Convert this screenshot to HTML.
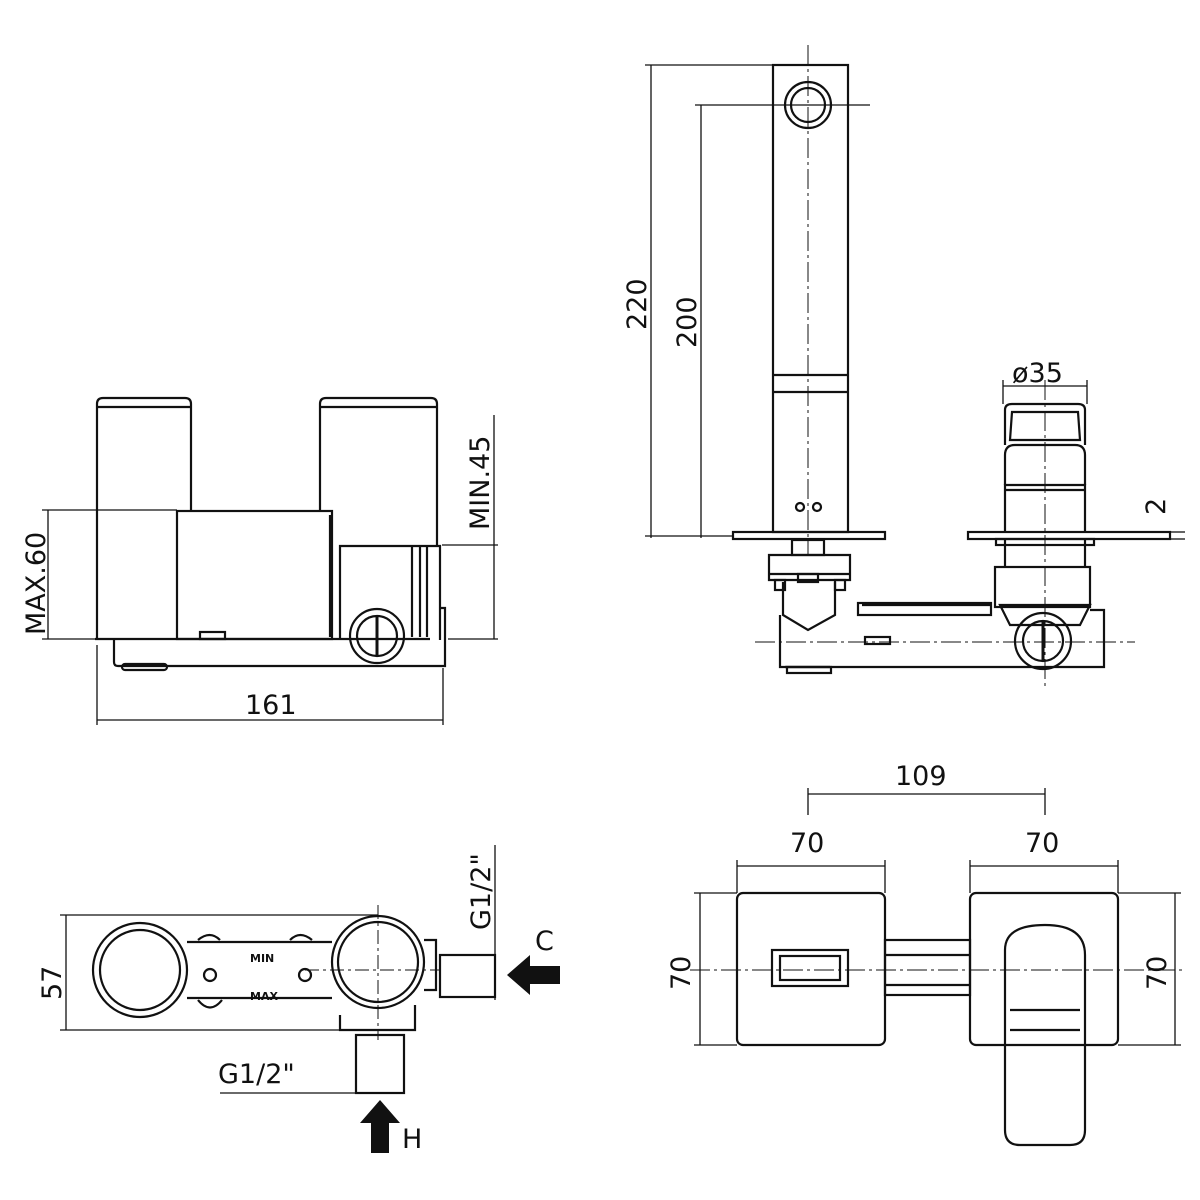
<!DOCTYPE html>
<html><head><style>body{margin:0;background:#fff}svg{display:block}text{font-family:"DejaVu Sans","Liberation Sans",sans-serif;font-size:27px;fill:#111}</style></head>
<body>
<svg width="1200" height="1200" viewBox="0 0 1200 1200" xmlns="http://www.w3.org/2000/svg">
<defs><marker id="a" markerWidth="8" markerHeight="8" refX="4" refY="4" orient="auto"><path d="M0,4 L4,4" stroke="#111"/></marker></defs>
<g fill="none" stroke="#111" stroke-width="2.2">
<!-- TOP LEFT -->
<path d="M97,640 V404 Q97,398 103,398 H185 Q191,398 191,404 V510"/>
<line x1="97" y1="407" x2="191" y2="407"/>
<path d="M320,510 V404 Q320,398 326,398 H431 Q437,398 437,404 V545"/>
<line x1="320" y1="407" x2="437" y2="407"/>
<rect x="177" y="511" width="155" height="128"/>
<line x1="330" y1="515" x2="330" y2="637"/>
<path d="M340,639 V546 H440 V640"/>
<line x1="412" y1="546" x2="412" y2="637"/><line x1="420" y1="546" x2="420" y2="637"/><line x1="427" y1="546" x2="427" y2="637"/>
<path d="M114,638 V662 Q114,666 118,666 H445 V608 H440"/>
<line x1="95" y1="639" x2="430" y2="639"/>
<rect x="122" y="664" width="45" height="6" rx="3"/>
<rect x="200" y="632" width="25" height="7"/>
<circle cx="377" cy="636" r="27"/><circle cx="377" cy="636" r="20"/>
<line x1="377" y1="617" x2="377" y2="655" stroke-width="3"/>
<!-- dims -->
<line x1="42" y1="510" x2="177" y2="510" stroke-width="1.3"/>
<line x1="42" y1="639" x2="95" y2="639" stroke-width="1.3"/>
<line x1="48" y1="510" x2="48" y2="639" stroke-width="1.3"/>
<line x1="442" y1="545" x2="498" y2="545" stroke-width="1.3"/>
<line x1="448" y1="639" x2="498" y2="639" stroke-width="1.3"/>
<line x1="494" y1="415" x2="494" y2="639" stroke-width="1.3"/>
<line x1="97" y1="645" x2="97" y2="725" stroke-width="1.3"/>
<line x1="443" y1="668" x2="443" y2="725" stroke-width="1.3"/>
<line x1="97" y1="720" x2="443" y2="720" stroke-width="1.3"/>

<!-- TOP RIGHT -->
<rect x="773" y="65" width="75" height="467"/>
<line x1="773" y1="375" x2="848" y2="375"/><line x1="773" y1="392" x2="848" y2="392"/>
<circle cx="808" cy="105" r="23"/><circle cx="808" cy="105" r="17"/>
<circle cx="800" cy="507" r="4"/><circle cx="817" cy="507" r="4"/>
<line x1="808" y1="45" x2="808" y2="555" stroke-width="1" stroke-dasharray="20,4,3,4"/>
<rect x="733" y="532" width="152" height="7"/>
<rect x="792" y="540" width="32" height="15"/>
<path d="M769,555 H850 V580 H769 Z"/>
<path d="M768,574 H851"/>
<rect x="775" y="580" width="10" height="10"/><rect x="798" y="574" width="20" height="8"/><rect x="835" y="580" width="10" height="10"/>
<path d="M783,582 V615 L808,630 L835,615 V582"/>
<path d="M780,615 V667 H1104 V610 H1090"/>
<line x1="862" y1="605" x2="990" y2="605"/>
<rect x="858" y="603" width="133" height="12"/>
<line x1="785" y1="667" x2="830" y2="667"/>
<rect x="787" y="667" width="44" height="6"/>
<line x1="755" y1="642" x2="1135" y2="642" stroke-width="1" stroke-dasharray="20,4,3,4"/>
<rect x="865" y="637" width="25" height="7"/>
<circle cx="1043" cy="641" r="28"/><circle cx="1043" cy="641" r="20"/>
<line x1="1043" y1="622" x2="1043" y2="660" stroke-width="3"/>
<rect x="995" y="567" width="95" height="40"/>
<path d="M1000,605 H1090 L1080,625 H1010 Z"/>
<line x1="1005" y1="540" x2="1005" y2="567"/><line x1="1085" y1="540" x2="1085" y2="567"/>
<rect x="968" y="532" width="202" height="7"/>
<rect x="996" y="539" width="98" height="6"/>
<path d="M1005,532 V485 H1085 V532"/>
<line x1="1005" y1="490" x2="1085" y2="490"/>
<path d="M1005,485 V455 Q1005,445 1015,445 H1075 Q1085,445 1085,455 V485"/>
<path d="M1005,445 V410 Q1005,404 1012,404 H1078 Q1085,404 1085,410 V445"/>
<path d="M1012,412 H1078 L1080,440 H1010 Z"/>
<line x1="1045" y1="380" x2="1045" y2="690" stroke-width="1" stroke-dasharray="20,4,3,4"/>
<!-- dims -->
<line x1="645" y1="65" x2="773" y2="65" stroke-width="1.3"/>
<line x1="651" y1="65" x2="651" y2="538" stroke-width="1.3"/>
<line x1="645" y1="536" x2="733" y2="536" stroke-width="1.3"/>
<line x1="695" y1="105" x2="870" y2="105" stroke-width="1.3"/>
<line x1="701" y1="105" x2="701" y2="538" stroke-width="1.3"/>
<line x1="1003" y1="386" x2="1087" y2="386" stroke-width="1.3"/>
<line x1="1003" y1="380" x2="1003" y2="404" stroke-width="1.3"/>
<line x1="1087" y1="380" x2="1087" y2="404" stroke-width="1.3"/>
<line x1="1170" y1="532" x2="1185" y2="532" stroke-width="1.3"/>
<line x1="1170" y1="539" x2="1185" y2="539" stroke-width="1.3"/>

<!-- BOTTOM LEFT -->
<circle cx="140" cy="970" r="47"/><circle cx="140" cy="970" r="40"/>
<circle cx="378" cy="962" r="46"/><circle cx="378" cy="962" r="40"/>
<path d="M187,942 H332 M187,998 H332"/>
<path d="M198,940 Q210,930 220,940 M290,940 Q300,930 312,940"/>
<circle cx="210" cy="975" r="6"/><circle cx="305" cy="975" r="6"/>
<path d="M198,1000 Q210,1015 222,1000 M340,1015 V1030 H415 V1005"/>
<path d="M424,940 H436 V990 H424"/>
<rect x="440" y="955" width="55" height="42"/>
<rect x="356" y="1035" width="48" height="58"/>
<line x1="378" y1="905" x2="378" y2="1040" stroke-width="1" stroke-dasharray="14,4,3,4"/>
<line x1="305" y1="970" x2="440" y2="970" stroke-width="1" stroke-dasharray="14,4,3,4"/>
<line x1="60" y1="915" x2="378" y2="915" stroke-width="1.3"/>
<line x1="60" y1="1030" x2="340" y2="1030" stroke-width="1.3"/>
<line x1="66" y1="915" x2="66" y2="1030" stroke-width="1.3"/>
<line x1="495" y1="845" x2="495" y2="1000" stroke-width="1.3"/>
<line x1="220" y1="1093" x2="404" y2="1093" stroke-width="1.3"/>
<line x1="93" y1="970" x2="93" y2="970"/>

<!-- BOTTOM RIGHT -->
<rect x="737" y="893" width="148" height="152" rx="6"/>
<rect x="970" y="893" width="148" height="152" rx="6"/>
<rect x="885" y="940" width="85" height="55"/>
<line x1="885" y1="955" x2="970" y2="955"/><line x1="885" y1="985" x2="970" y2="985"/>
<rect x="772" y="950" width="76" height="36"/><rect x="780" y="956" width="60" height="24"/>
<path d="M1005,950 Q1005,925 1045,925 Q1085,925 1085,955 V1130 Q1085,1145 1070,1145 H1020 Q1005,1145 1005,1130 Z"/>
<path d="M1010,1010 H1080 M1010,1030 H1080"/>
<line x1="690" y1="970" x2="1185" y2="970" stroke-width="1" stroke-dasharray="20,4,3,4"/>
<line x1="737" y1="860" x2="737" y2="893" stroke-width="1.3"/>
<line x1="885" y1="860" x2="885" y2="893" stroke-width="1.3"/>
<line x1="737" y1="866" x2="885" y2="866" stroke-width="1.3"/>
<line x1="970" y1="860" x2="970" y2="893" stroke-width="1.3"/>
<line x1="1118" y1="860" x2="1118" y2="893" stroke-width="1.3"/>
<line x1="970" y1="866" x2="1118" y2="866" stroke-width="1.3"/>
<line x1="808" y1="788" x2="808" y2="815" stroke-width="1.3"/>
<line x1="1045" y1="788" x2="1045" y2="815" stroke-width="1.3"/>
<line x1="808" y1="794" x2="1045" y2="794" stroke-width="1.3"/>
<line x1="694" y1="893" x2="737" y2="893" stroke-width="1.3"/>
<line x1="694" y1="1045" x2="737" y2="1045" stroke-width="1.3"/>
<line x1="700" y1="893" x2="700" y2="1045" stroke-width="1.3"/>
<line x1="1118" y1="893" x2="1181" y2="893" stroke-width="1.3"/>
<line x1="1118" y1="1045" x2="1181" y2="1045" stroke-width="1.3"/>
<line x1="1175" y1="893" x2="1175" y2="1045" stroke-width="1.3"/>
</g>
<!-- arrows -->
<path d="M507,975 L530,955 V966 H560 V984 H530 V995 Z" fill="#111"/>
<path d="M380,1100 L360,1123 H371 V1153 H389 V1123 H400 Z" fill="#111"/>
<text x="245" y="714">161</text>
<text transform="translate(45,635) rotate(-90)">MAX.60</text>
<text transform="translate(489,530) rotate(-90)">MIN.45</text>
<text transform="translate(646,330) rotate(-90)">220</text>
<text transform="translate(696,348) rotate(-90)">200</text>
<text x="1012" y="382">ø35</text>
<text transform="translate(1165,515) rotate(-90)">2</text>
<text x="895" y="785">109</text>
<text x="790" y="852">70</text>
<text x="1025" y="852">70</text>
<text transform="translate(690,990) rotate(-90)">70</text>
<text transform="translate(1166,990) rotate(-90)">70</text>
<text transform="translate(61,1000) rotate(-90)">57</text>
<text transform="translate(490,930) rotate(-90)">G1/2"</text>
<text x="218" y="1083">G1/2"</text>
<text x="535" y="950">C</text>
<text x="402" y="1148">H</text>
<text x="250" y="962" style="font-size:11px;font-weight:bold">MIN</text>
<text x="250" y="1000" style="font-size:11px;font-weight:bold">MAX</text>
</svg>
</body></html>
